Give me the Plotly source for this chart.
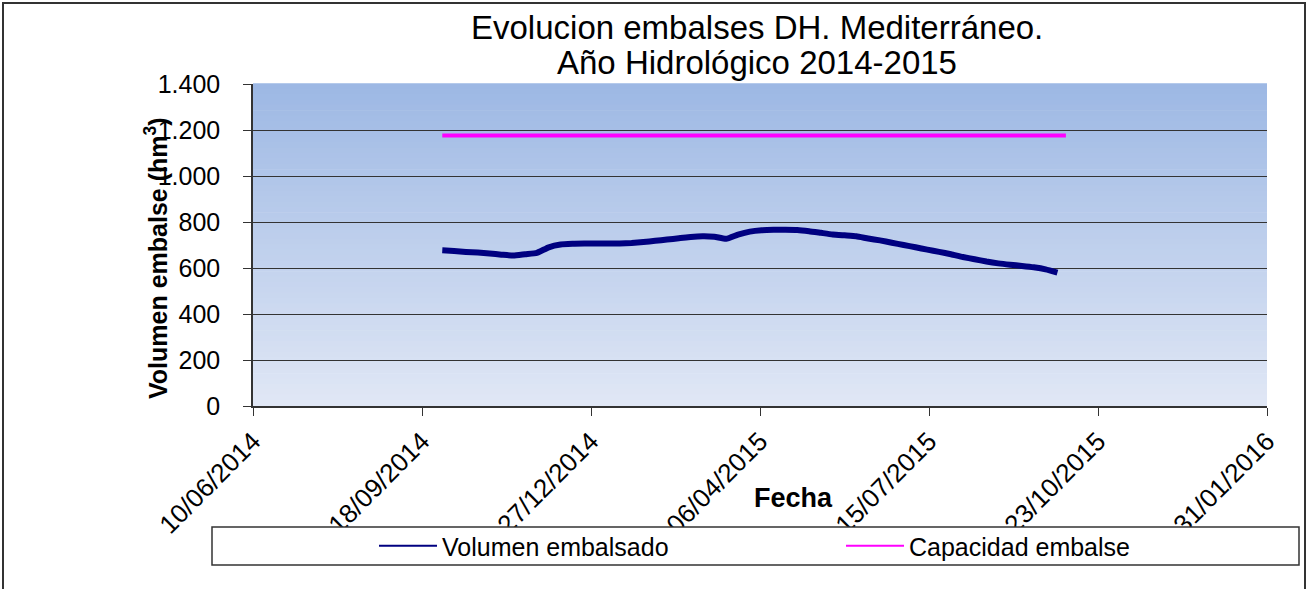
import plotly.graph_objects as go

# weekly reservoir bulletin (hm3), hydrological year 2014-2015
fechas = [
    "2014-09-30", "2014-10-07", "2014-10-14", "2014-10-21", "2014-10-28",
    "2014-11-04", "2014-11-11", "2014-11-18", "2014-11-25", "2014-12-02",
    "2014-12-09", "2014-12-16", "2014-12-23", "2014-12-30", "2015-01-06",
    "2015-01-13", "2015-01-20", "2015-01-27", "2015-02-03", "2015-02-10",
    "2015-02-17", "2015-02-24", "2015-03-03", "2015-03-10", "2015-03-17",
    "2015-03-24", "2015-03-31", "2015-04-07", "2015-04-14", "2015-04-21",
    "2015-04-28", "2015-05-05", "2015-05-12", "2015-05-19", "2015-05-26",
    "2015-06-02", "2015-06-09", "2015-06-16", "2015-06-23", "2015-06-30",
    "2015-07-07", "2015-07-14", "2015-07-21", "2015-07-28", "2015-08-04",
    "2015-08-11", "2015-08-18", "2015-08-25", "2015-09-01", "2015-09-08",
    "2015-09-15", "2015-09-22", "2015-09-29",
]
volumen = [
    677, 674, 670, 667, 663, 658, 654, 660, 666, 690,
    702, 705, 706, 706, 707, 707, 709, 713, 718, 724,
    729, 735, 738, 736, 727, 745, 758, 764, 766, 766,
    765, 760, 753, 746, 742, 738, 728, 720, 710, 700,
    690, 680, 670, 660, 648, 638, 628, 620, 614, 609,
    603, 594, 580,
]
fechas_capacidad = ["2014-09-30", "2015-10-04"]
capacidad = [1176, 1176]

y_ticks = [0, 200, 400, 600, 800, 1000, 1200, 1400]

W, H = 1309, 589
ML, MR, MT, MB = 253, 42, 84, 183
PW, PH = W - ML - MR, H - MT - MB

AZUL = "#000080"
ROSA = "#ff00ff"
FONT = "Arial, Liberation Sans, sans-serif"


def px_x(px):
    return (px - ML) / PW


def px_y(py):
    return (H - MB - py) / PH


fig = go.Figure()
fig.add_trace(go.Scatter(
    x=fechas, y=volumen, mode="lines", showlegend=False,
    line=dict(color=AZUL, width=6, shape="spline", smoothing=0.5),
))
fig.add_trace(go.Scatter(
    x=fechas_capacidad, y=capacidad, mode="lines", showlegend=False,
    line=dict(color=ROSA, width=4),
))
# legend entries with the thin sample line of the original
fig.add_trace(go.Scatter(x=[None], y=[None], mode="lines", name="Volumen embalsado",
                         line=dict(color=AZUL, width=2)))
fig.add_trace(go.Scatter(x=[None], y=[None], mode="lines", name="Capacidad embalse",
                         line=dict(color=ROSA, width=2)))

# vertical gradient background of the plot area, as thin bands
shapes = []
n_bands = 60
top, bot = (157, 184, 228), (224, 231, 245)
for i in range(n_bands):
    t = i / (n_bands - 1)
    c = tuple(round(top[k] + (bot[k] - top[k]) * t) for k in range(3))
    shapes.append(dict(
        type="rect", xref="paper", yref="paper", layer="below",
        x0=0, x1=1, y0=1 - (i + 1) / n_bands, y1=1 - i / n_bands + 0.002,
        fillcolor="rgb(%d,%d,%d)" % c, line=dict(width=0),
    ))
# legend box (covers bottom of the date labels)
shapes.append(dict(
    type="rect", xref="paper", yref="paper", layer="above",
    x0=px_x(212), x1=px_x(1299), y0=px_y(565), y1=px_y(527),
    fillcolor="white", line=dict(color="#333", width=1.5),
))
# outer frame
shapes.append(dict(
    type="rect", xref="paper", yref="paper", layer="above",
    x0=px_x(3), x1=px_x(1305), y0=px_y(592), y1=px_y(3),
    fillcolor="rgba(0,0,0,0)", line=dict(color="#333", width=2),
))

fig.update_layout(
    width=W, height=H,
    margin=dict(l=ML, r=MR, t=MT, b=MB, autoexpand=False),
    paper_bgcolor="white", plot_bgcolor="rgba(0,0,0,0)",
    font=dict(family=FONT, color="black"),
    separators=",.",
    showlegend=True,
    legend=dict(
        orientation="h", x=px_x(374), xanchor="left", y=px_y(546), yanchor="middle",
        bgcolor="rgba(0,0,0,0)", borderwidth=0, font=dict(size=25, family=FONT),
        entrywidth=394, entrywidthmode="pixels", itemwidth=58,
    ),
    shapes=shapes,
    annotations=[
        dict(text="Evolucion embalses DH. Mediterráneo.",
             xref="paper", yref="paper", x=px_x(757), y=px_y(28),
             xanchor="center", yanchor="middle", showarrow=False,
             font=dict(size=33, family=FONT)),
        dict(text="Año Hidrológico 2014-2015",
             xref="paper", yref="paper", x=px_x(757), y=px_y(63),
             xanchor="center", yanchor="middle", showarrow=False,
             font=dict(size=33, family=FONT)),
        dict(text="<b>Volumen embalse (hm<sup>3</sup>)</b>",
             xref="paper", yref="paper", x=px_x(156), y=px_y(258),
             xanchor="center", yanchor="middle", textangle=-90, showarrow=False,
             font=dict(size=25, family=FONT)),
        dict(text="<b>Fecha</b>",
             xref="paper", yref="paper", x=px_x(793), y=px_y(498),
             xanchor="center", yanchor="middle", showarrow=False,
             font=dict(size=27, family=FONT)),
    ],
)

fig.update_xaxes(
    type="date", range=["2014-06-10", "2016-01-31"],
    tick0="2014-06-10", dtick=100 * 86400000, tickformat="%d/%m/%Y",
    tickangle=-45, tickfont=dict(size=26, family=FONT),
    showgrid=False, zeroline=False,
    showline=True, linecolor="#333", linewidth=1.5,
    ticks="outside", ticklen=8, tickcolor="#333",
)
fig.update_yaxes(
    range=[0, 1400], tickvals=y_ticks, separatethousands=True,
    tickfont=dict(size=25, family=FONT), ticklabelstandoff=18,
    showgrid=True, gridcolor="#333", gridwidth=1.2, zeroline=False,
    showline=True, linecolor="#333", linewidth=1.5,
    ticks="outside", ticklen=8, tickcolor="#333",
)

fig.write_html("out.html", config={"displayModeBar": False},
               post_script="document.body.style.margin='0';")
